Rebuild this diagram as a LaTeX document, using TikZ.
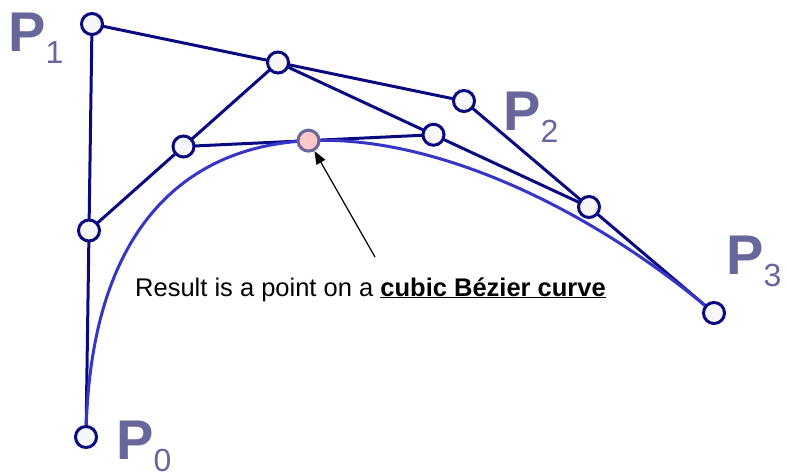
\documentclass[tikz,border=0pt]{standalone}
\usepackage{fontspec}
\setmainfont{Liberation Sans}
\usetikzlibrary{arrows.meta, positioning, calc}

\definecolor{navy}{HTML}{0A0A80}
\definecolor{curveblue}{HTML}{3535C8}
\definecolor{slate}{HTML}{67679C}
\definecolor{pinkfill}{HTML}{FFC8C8}

\tikzset{
  ctrl/.style={circle, draw=navy, line width=3pt, fill=white!97!black, minimum size=21pt, inner sep=0pt},
  hit/.style={circle, draw=slate, line width=3pt, fill=pinkfill, minimum size=21pt, inner sep=0pt},
  poly/.style={draw=navy, line width=3pt},
  lbl/.style={anchor=base west, inner sep=0pt, text=slate, font=\fontsize{56}{56}\selectfont\bfseries},
}
\newcommand{\sub}[1]{\raisebox{-12pt}{\fontsize{32}{32}\selectfont\mdseries #1}}

\begin{document}
\begin{tikzpicture}[x=1pt, y=-1pt]
            \useasboundingbox (0,0) rectangle (787,474);

            % Control points
            \coordinate (P0) at (86,437);
            \coordinate (P1) at (92,24);
            \coordinate (P2) at (464,101);
            \coordinate (P3) at (714,313);

            % de Casteljau, t = 1/2
            \coordinate (A) at ($(P0)!0.5!(P1)$);
            \coordinate (B) at ($(P1)!0.5!(P2)$);
            \coordinate (C) at ($(P2)!0.5!(P3)$);
            \coordinate (D) at ($(A)!0.5!(B)$);
            \coordinate (E) at ($(B)!0.5!(C)$);
            \coordinate (F) at ($(D)!0.5!(E)$);

            % Polygons
            \draw[poly] (P0) -- (P1) -- (P2) -- (P3);
            \draw[poly] (A) -- (B) -- (C);
            \draw[poly] (D) -- (E);

            % Curve
            \draw[curveblue, line width=3pt] (P0) .. controls (P1) and (P2) .. (P3);

            % Points
            \foreach \p in {P0,P1,P2,P3,A,B,C,D,E}
              \node[ctrl] (n\p) at (\p) {};
            \node[hit] (nF) at (F) {};

            % Labels
            \node[lbl] (l0) at (116,459) {P\sub{0}};
            \node[lbl] (l1) at (8,51) {P\sub{1}};
            \node[lbl] (l2) at (503,130) {P\sub{2}};
            \node[lbl] (l3) at (726,274) {P\sub{3}};

            % Note
            \node[anchor=base west, inner sep=0pt, font=\fontsize{25.5}{25.5}\selectfont] (note) at (135,296)
              {Result is a point on a \textbf{\underline{cubic Bézier curve}}};
            \coordinate (tail) at (375,257);
            \draw[-{Triangle[length=13pt, width=10pt]}, line width=1.2pt] (tail) -- (nF);
        \end{tikzpicture}
\end{document}
